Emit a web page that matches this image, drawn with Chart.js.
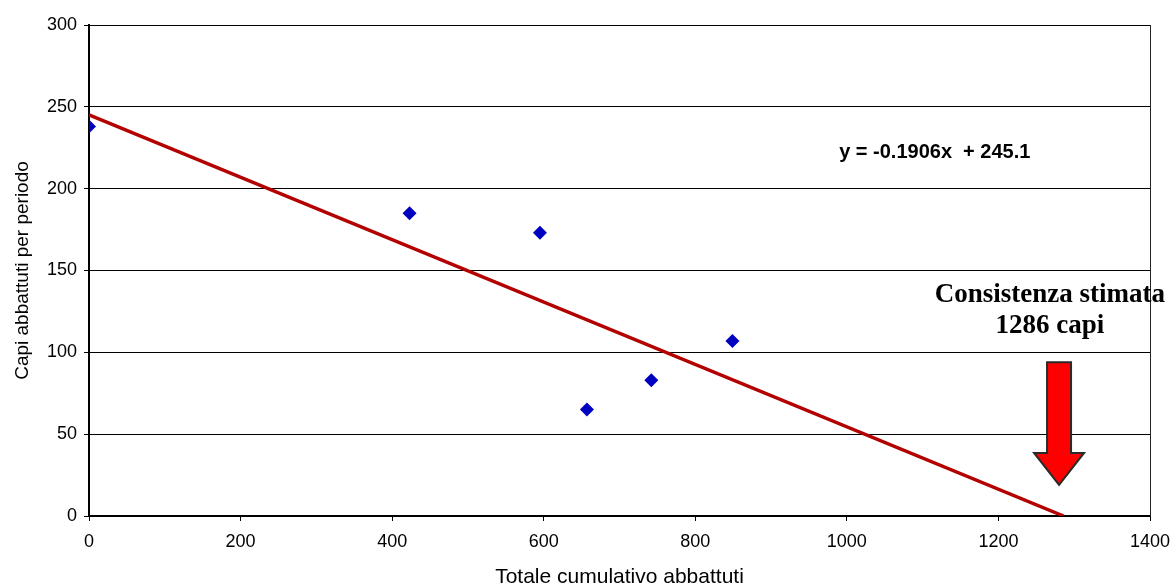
<!DOCTYPE html>
<html>
<head>
<meta charset="utf-8">
<script src="https://cdn.jsdelivr.net/npm/chart.js@4/dist/chart.umd.min.js"></script>
<style>
    html, body { margin: 0; padding: 0; background: #fff; }
    #wrap { width: 1171px; height: 588px; position: relative; }
</style>
</head>
<body>
<div id="wrap"><canvas id="cullChart"></canvas></div>
<script>
// observed culls: cumulative total vs culled in the period
const cumulativeTotals = [0, 423, 595, 657, 742, 849];
const culledPerPeriod = [238, 185, 173, 65, 83, 107];

// linear trend (y = -0.1906x + 245.1)
const trendX = [0, 1286];
const trendY = [245.1, 0];

const xTicks = [0, 200, 400, 600, 800, 1000, 1200, 1400];
const yTicks = [0, 50, 100, 150, 200, 250, 300];

const equationText = 'y = -0.1906x  + 245.1';
const estimateText = ['Consistenza stimata', '1286 capi'];

document.addEventListener('DOMContentLoaded', () => {
    const ctx = document.getElementById('cullChart').getContext('2d');

    // annotation anchors in data units
    const notes = {
        equation: { x: 1116, y: 222 },
        estimate: { x: 1268, y: 135 },
        arrow: { x: 1280, top: 94, tip: 19 }
    };

    const annotations = {
        id: 'annotations',
        afterDraw(chart) {
            const { ctx, chartArea, scales: { x, y } } = chart;
            ctx.save();

            // right frame line
            ctx.strokeStyle = '#222';
            ctx.lineWidth = 1;
            ctx.beginPath();
            ctx.moveTo(chartArea.right + 0.5, chartArea.top);
            ctx.lineTo(chartArea.right + 0.5, chartArea.bottom);
            ctx.stroke();

            // regression equation
            ctx.fillStyle = '#000';
            ctx.font = 'bold 20px "Liberation Sans", Arial, sans-serif';
            ctx.textAlign = 'center';
            ctx.textBaseline = 'middle';
            ctx.fillText(equationText, x.getPixelForValue(notes.equation.x), y.getPixelForValue(notes.equation.y));

            // estimated population label
            ctx.font = 'bold 27px "Liberation Serif", "Times New Roman", serif';
            const ex = x.getPixelForValue(notes.estimate.x);
            const ey = y.getPixelForValue(notes.estimate.y);
            estimateText.forEach((line, i) => ctx.fillText(line, ex, ey + i * 31));

            // down arrow
            const ax = x.getPixelForValue(notes.arrow.x);
            const top = y.getPixelForValue(notes.arrow.top);
            const tip = y.getPixelForValue(notes.arrow.tip);
            const shaft = 12, head = 25, headLen = 32;
            ctx.beginPath();
            ctx.moveTo(ax - shaft, top);
            ctx.lineTo(ax + shaft, top);
            ctx.lineTo(ax + shaft, tip - headLen);
            ctx.lineTo(ax + head, tip - headLen);
            ctx.lineTo(ax, tip);
            ctx.lineTo(ax - head, tip - headLen);
            ctx.lineTo(ax - shaft, tip - headLen);
            ctx.closePath();
            ctx.fillStyle = '#ff0000';
            ctx.fill();
            ctx.strokeStyle = '#2a2a2a';
            ctx.lineWidth = 2;
            ctx.stroke();

            ctx.restore();
        }
    };

    const tickFont = { family: '"Liberation Sans", Arial, sans-serif', size: 18 };

    new Chart(ctx, {
        type: 'scatter',
        data: {
            datasets: [
                {
                    label: 'Abbattuti',
                    data: cumulativeTotals.map((v, i) => ({ x: v, y: culledPerPeriod[i] })),
                    pointStyle: 'rectRot',
                    pointRadius: 7,
                    backgroundColor: '#0000c0',
                    borderColor: '#0000c0',
                    borderWidth: 0,
                    order: 1
                },
                {
                    label: 'Lineare',
                    data: trendX.map((v, i) => ({ x: v, y: trendY[i] })),
                    showLine: true,
                    pointRadius: 0,
                    borderColor: '#b30000',
                    borderWidth: 3.5,
                    order: 2
                }
            ]
        },
        options: {
            responsive: true,
            maintainAspectRatio: false,
            animation: false,
            layout: { padding: { left: 0, right: 21, top: 25, bottom: 0 } },
            plugins: {
                legend: { display: false },
                tooltip: { enabled: false }
            },
            scales: {
                x: {
                    type: 'linear',
                    min: 0,
                    max: 1400,
                    afterBuildTicks: scale => { scale.ticks = xTicks.map(value => ({ value })); },
                    afterFit: scale => {
                        scale.height = 72;
                        scale.paddingLeft = 0;
                        scale.paddingRight = 21;
                    },
                    grid: { drawOnChartArea: false, drawTicks: true, tickLength: 5, color: '#000' },
                    border: { color: '#000', width: 2 },
                    ticks: { color: '#000', font: tickFont, padding: 10, maxRotation: 0, callback: v => String(v) },
                    title: {
                        display: true,
                        text: 'Totale cumulativo abbattuti',
                        color: '#000',
                        font: { family: '"Liberation Sans", Arial, sans-serif', size: 21, lineHeight: 1 },
                        padding: { top: 0, bottom: 0 }
                    }
                },
                y: {
                    type: 'linear',
                    min: 0,
                    max: 300,
                    afterBuildTicks: scale => { scale.ticks = yTicks.map(value => ({ value })); },
                    afterFit: scale => { scale.width = 89; },
                    grid: { color: '#000', lineWidth: 1, tickLength: 5 },
                    border: { color: '#000', width: 2 },
                    ticks: { color: '#000', font: tickFont, padding: 7, callback: v => String(v) },
                    title: {
                        display: true,
                        text: 'Capi abbattuti per periodo',
                        color: '#000',
                        font: { family: '"Liberation Sans", Arial, sans-serif', size: 19, lineHeight: 1 },
                        padding: { top: 13, bottom: 0 }
                    }
                }
            }
        },
        plugins: [annotations]
    });
});
</script>
</body>
</html>
